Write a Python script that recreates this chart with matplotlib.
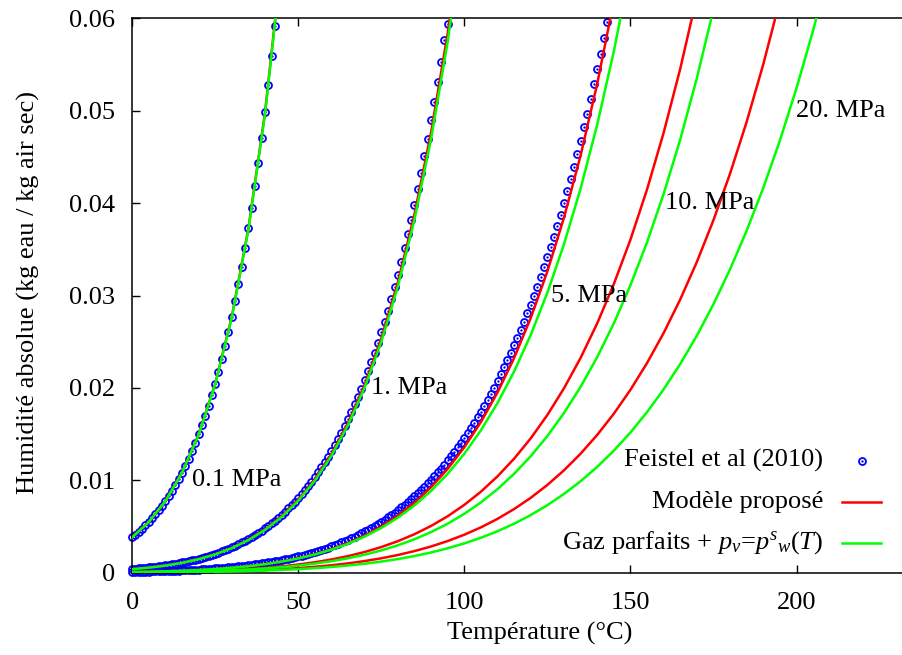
import numpy as np
import matplotlib
matplotlib.use("Agg")
import matplotlib.pyplot as plt

plt.rcParams['font.family'] = ['Liberation Serif', 'DejaVu Serif']
plt.rcParams['mathtext.fontset'] = 'custom'
plt.rcParams['mathtext.rm'] = 'Liberation Serif'
plt.rcParams['mathtext.it'] = 'Liberation Serif:italic'

# ---------------- data ----------------
# Feistel et al (2010): markers every 1 degC
feistel_01 = [0.003841, 0.004131, 0.004440, 0.004771, 0.005122, 0.005498, 0.005897, 0.006322, 0.006774, 0.007254,
              0.007766, 0.008308, 0.008886, 0.009498, 0.010148, 0.010838, 0.011570, 0.012345, 0.013167, 0.014037,
              0.014959, 0.015936, 0.016970, 0.018064, 0.019221, 0.020445, 0.021740, 0.023109, 0.024556, 0.026085,
              0.027701, 0.029408, 0.031212, 0.033118, 0.035130, 0.037255, 0.039500, 0.041870, 0.044374, 0.047016,
              0.049807, 0.052755, 0.055869, 0.059158]
feistel_1 = [0.0003956, 0.0004254, 0.0004570, 0.0004908, 0.0005267, 0.0005650, 0.0006057, 0.0006489, 0.0006949, 0.0007436,
             0.0007955, 0.0008505, 0.0009088, 0.0009706, 0.0010360, 0.0011053, 0.0011788, 0.0012564, 0.0013385, 0.0014252,
             0.0015169, 0.0016137, 0.0017159, 0.0018237, 0.0019373, 0.0020572, 0.0021836, 0.0023166, 0.0024567, 0.0026041,
             0.0027593, 0.0029224, 0.0030939, 0.0032743, 0.0034636, 0.0036625, 0.0038713, 0.0040903, 0.0043202, 0.0045612,
             0.0048138, 0.0050786, 0.0053559, 0.0056465, 0.0059506, 0.0062690, 0.0066022, 0.0069512, 0.0073152, 0.0076962,
             0.0080942, 0.0085041, 0.0089351, 0.0093887, 0.0098650, 0.010367, 0.010875, 0.011409, 0.011970, 0.012559,
             0.013177, 0.013804, 0.014462, 0.015151, 0.015875, 0.016633, 0.017402, 0.018207, 0.019051, 0.019934,
             0.020861, 0.021799, 0.022781, 0.023809, 0.024885, 0.026012, 0.027153, 0.028345, 0.029593, 0.030898,
             0.032264, 0.033646, 0.035091, 0.036602, 0.038180, 0.039831, 0.041503, 0.043249, 0.045073, 0.046981,
             0.048974, 0.050993, 0.053101, 0.055305, 0.057607, 0.059400]
feistel_5 = [0.00008897, 0.00009562, 0.00010271, 0.00011025, 0.00011826, 0.00012681, 0.00013590, 0.00014554, 0.00015578, 0.00016665,
             0.00017820, 0.00019043, 0.00020340, 0.00021715, 0.00023169, 0.00024709, 0.00026339, 0.00028060, 0.00029881, 0.00031803,
             0.00033832, 0.00035975, 0.00038234, 0.00040617, 0.00043128, 0.00045774, 0.00048561, 0.00051493, 0.00054579, 0.00057824,
             0.00061236, 0.00064821, 0.00068587, 0.00072543, 0.00076694, 0.00081048, 0.00085617, 0.00090405, 0.00095425, 0.0010068,
             0.0010619, 0.0011196, 0.0011799, 0.0012430, 0.0013090, 0.0013780, 0.0014501, 0.0015256, 0.0016042, 0.0016864,
             0.0017721, 0.0018602, 0.0019528, 0.0020501, 0.0021520, 0.0022593, 0.0023678, 0.0024816, 0.0026008, 0.0027258,
             0.0028567, 0.0029894, 0.0031282, 0.0032734, 0.0034255, 0.0035845, 0.0037453, 0.0039133, 0.0040891, 0.0042726,
             0.0044646, 0.0046583, 0.0048607, 0.0050718, 0.0052921, 0.0055223, 0.0057544, 0.0059964, 0.0062486, 0.0065116,
             0.0067858, 0.0070622, 0.0073501, 0.0076497, 0.0079619, 0.0082868, 0.0086142, 0.0089549, 0.0093089, 0.0096775,
             0.010061, 0.010447, 0.010848, 0.011265, 0.011698, 0.012148, 0.012600, 0.013070, 0.013558, 0.014065,
             0.014591, 0.015120, 0.015669, 0.016238, 0.016828, 0.017441, 0.018057, 0.018695, 0.019357, 0.020043,
             0.020754, 0.021468, 0.022208, 0.022975, 0.023769, 0.024591, 0.025417, 0.026273, 0.027158, 0.028075,
             0.029024, 0.029977, 0.030963, 0.031984, 0.033039, 0.034132, 0.035230, 0.036365, 0.037539, 0.038753,
             0.040008, 0.041270, 0.042573, 0.043920, 0.045313, 0.046753, 0.048201, 0.049696, 0.051242, 0.052840,
             0.054491, 0.056152, 0.057865, 0.059637]

# Line curves every 5 degC (starting at 0)
T_lines = list(range(0, 215, 5))
green_01 = [0.003825, 0.005475, 0.007734, 0.010794, 0.014898, 0.020361, 0.027586, 0.037098, 0.049593, 0.066010]
red_01 = [0.003836, 0.005491, 0.007757, 0.010827, 0.014944, 0.020425, 0.027675, 0.037222, 0.049768, 0.066245]
green_1 = [0.00038040, 0.00054323, 0.00076488, 0.0010628, 0.0014584, 0.0019778, 0.0026527, 0.0035208, 0.0046273, 0.0060255,
           0.0077790, 0.0099616, 0.012660, 0.015977, 0.020033, 0.024971, 0.030961, 0.038205, 0.046949, 0.057491, 0.070203]
red_1 = [0.00038611, 0.00055138, 0.00077635, 0.0010787, 0.0014803, 0.0020075, 0.0026925, 0.0035736, 0.0046967, 0.0061159,
         0.0078957, 0.010111, 0.012850, 0.016217, 0.020334, 0.025346, 0.031426, 0.038781, 0.047660, 0.058378, 0.071400]
green_5 = [0.000076044, 0.00010857, 0.00015283, 0.00021226, 0.00029113, 0.00039456, 0.00052874, 0.00070099, 0.00091998, 0.0011958,
           0.0015404, 0.0019671, 0.0024913, 0.0031310, 0.0039059, 0.0048388, 0.0059550, 0.0072831, 0.0088550, 0.010707,
           0.012878, 0.015413, 0.018363, 0.021783, 0.025737, 0.030297, 0.035544, 0.041569, 0.048480, 0.056399, 0.065469]
red_5 = [0.000077565, 0.00011074, 0.00015589, 0.00021651, 0.00029695, 0.00040245, 0.00053931, 0.00071501, 0.00093838, 0.0012197,
         0.0015712, 0.0020064, 0.0025452, 0.0032110, 0.0040214, 0.0050013, 0.0061788, 0.0075860, 0.0092593, 0.011239,
         0.013573, 0.016310, 0.019511, 0.023241, 0.027576, 0.032602, 0.038424, 0.045144, 0.052904, 0.061857]
green_10 = [0.000038019, 0.000054281, 0.000076403, 0.00010611, 0.00014553, 0.00019722, 0.00026426, 0.00035030, 0.00045965, 0.00059735,
            0.00076924, 0.00098201, 0.0012432, 0.0015616, 0.0019468, 0.0024100, 0.0029633, 0.0036203, 0.0043962, 0.0053076,
            0.0063730, 0.0076120, 0.0090480, 0.010704, 0.012608, 0.014788, 0.017278, 0.020112, 0.023331, 0.026977,
            0.031098, 0.035748, 0.040988, 0.046884, 0.053513, 0.060961]
red_10 = [0.000043722, 0.000062423, 0.000087865, 0.00012203, 0.00016737, 0.00022681, 0.00030392, 0.00040288, 0.00052866, 0.00068705,
          0.00088480, 0.0011296, 0.0014301, 0.0017965, 0.0022399, 0.0027732, 0.0034103, 0.0041670, 0.0050610, 0.0061115,
          0.0073402, 0.0087699, 0.010428, 0.012342, 0.014543, 0.017067, 0.019953, 0.023242, 0.026982, 0.031226,
          0.036032, 0.041468, 0.047606, 0.054533, 0.062344]
green_20 = [0.000019009, 0.000027139, 0.000038199, 0.000053052, 0.000072758, 0.000098593, 0.00013210, 0.00017510, 0.00022974, 0.00029853,
            0.00038438, 0.00049062, 0.00062097, 0.00077981, 0.00097190, 0.0012027, 0.0014781, 0.0018049, 0.0021904, 0.0026425,
            0.0031702, 0.0037829, 0.0044913, 0.0053064, 0.0062406, 0.0073072, 0.0085209, 0.0098962, 0.011450, 0.013202,
            0.015170, 0.017375, 0.019840, 0.022590, 0.025653, 0.029057, 0.032834, 0.037020, 0.041651, 0.046774,
            0.052434, 0.058685, 0.065585]
red_20 = [0.000024617, 0.000035146, 0.000049469, 0.000068704, 0.000094224, 0.00012768, 0.00017108, 0.00022677, 0.00029755, 0.00038665,
          0.00049787, 0.00063549, 0.00080439, 0.0010102, 0.0012592, 0.0015584, 0.0019155, 0.0023394, 0.0028395, 0.0034264,
          0.0041117, 0.0049076, 0.0058287, 0.0068891, 0.0081056, 0.0094957, 0.011079, 0.012876, 0.014909, 0.017204,
          0.019787, 0.022687, 0.025937, 0.029572, 0.033630, 0.038154, 0.043192, 0.048799, 0.055025, 0.061947]

pressure_labels = ["0.1 MPa", "1. MPa", "5. MPa", "10. MPa", "20. MPa"]
label_T = [18, 72, 126, 160.5, 200]
label_w = [0.01, 0.02, 0.03, 0.04, 0.05]

legend_labels = ["Feistel et al (2010)", "Modèle proposé",
                 r"Gaz parfaits + $p_v$=$p^{s}{}_{w}(T)$"]

x_ticks = [0, 50, 100, 150, 200]
y_ticks = [0, 0.01, 0.02, 0.03, 0.04, 0.05, 0.06]
y_ticklabels = ["0", "0.01", "0.02", "0.03", "0.04", "0.05", "0.06"]

# ---------------- figure ----------------
W, H = 902, 655
fig = plt.figure(figsize=(W / 100, H / 100), dpi=100)
ax_left, ax_right, ax_top, ax_bot = 132.1, 912.0, 18.3, 572.7
ax = fig.add_axes([ax_left / W, 1 - ax_bot / H, (ax_right - ax_left) / W, (ax_bot - ax_top) / H])
ax.set_xlim(0, (ax_right - ax_left) / 3.322)
ax.set_ylim(0, 0.06)

BLUE, RED, GREEN = "#0000ff", "#ff0000", "#00ff00"
FS = 19
MS, MEW = 5.0, 1.3
LW = 1.8

for series in (feistel_01, feistel_1, feistel_5):
    T = np.arange(len(series))
    ax.plot(T, series, linestyle="none", marker="o", ms=MS, mfc="none", mec=BLUE, mew=MEW,
            zorder=2, clip_on=False)
    ax.plot(T, series, linestyle="none", marker="o", ms=1.3, mfc=BLUE, mec=BLUE, mew=0.3,
            zorder=2, clip_on=False)

for series in (red_01, red_1, red_5, red_10, red_20):
    ax.plot(T_lines[:len(series)], series, color=RED, lw=LW, zorder=3)
for series in (green_01, green_1, green_5, green_10, green_20):
    ax.plot(T_lines[:len(series)], series, color=GREEN, lw=LW, zorder=4)

for lab, tx, wy in zip(pressure_labels, label_T, label_w):
    ax.text(tx, wy, lab, fontsize=FS, ha="left", va="center", zorder=5)

ax.set_xticks(x_ticks)
ax.set_xticklabels([str(v) for v in x_ticks])
ax.set_yticks(y_ticks)
ax.set_yticklabels(y_ticklabels)
ax.tick_params(direction="in", length=6, width=1.0, labelsize=FS, top=True, right=False)
ax.tick_params(axis="x", pad=14)
ax.tick_params(axis="y", pad=12.3)
for s in ax.spines.values():
    s.set_linewidth(1.1)

fig.text(540 / W, 1 - 633 / H, "Température (°C)", fontsize=FS, ha="center", va="center")
fig.text(28 / W, 1 - 292 / H, "Humidité absolue (kg eau / kg air sec)", fontsize=FS,
         ha="center", va="center", rotation=90)

# legend (right-aligned text, sample on the right)
rows = [460.7, 501.7, 543.0]
text_right, s0, s1 = 823, 842, 881
for i, (lab, y) in enumerate(zip(legend_labels, rows)):
    fig.text(text_right / W, 1 - y / H, lab, fontsize=FS, ha="right", va="center")
    yf = 1 - y / H
    if i == 0:
        fig.lines.append(plt.Line2D([(s0 + s1) / 2 / W], [yf], transform=fig.transFigure,
                                    linestyle="none", marker="o", ms=MS, mfc="none", mec=BLUE, mew=MEW))
        fig.lines.append(plt.Line2D([(s0 + s1) / 2 / W], [yf], transform=fig.transFigure,
                                    linestyle="none", marker="o", ms=1.3, mfc=BLUE, mec=BLUE, mew=0.3))
    else:
        col = RED if i == 1 else GREEN
        fig.lines.append(plt.Line2D([s0 / W, s1 / W], [yf, yf], transform=fig.transFigure,
                                    color=col, lw=LW))

fig.savefig("out.png", dpi=100)
